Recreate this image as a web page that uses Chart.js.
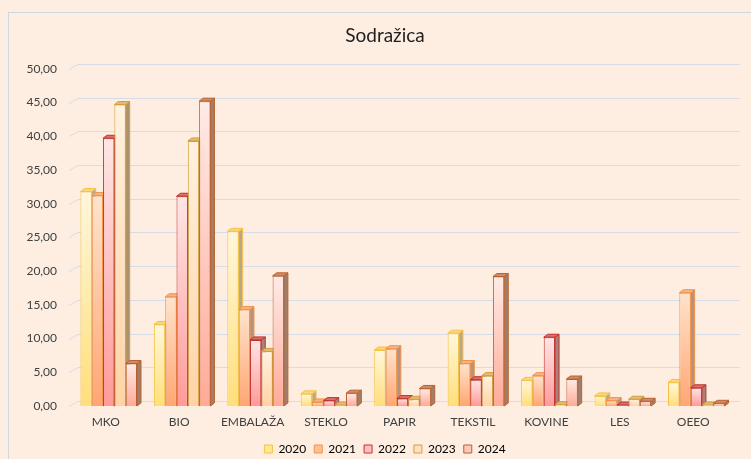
<!DOCTYPE html>
<html>
<head>
<meta charset="utf-8">
<script src="https://cdn.jsdelivr.net/npm/chart.js@4.4.1/dist/chart.umd.min.js"></script>
<style>
html, body { margin: 0; padding: 0; background: #fdeee1; }
#wrap { position: relative; width: 751px; height: 459px; overflow: hidden; }
#frame { position: absolute; left: 8px; top: 12px; width: 754px; height: 500px; border: 1px solid #cdd7e0; box-sizing: border-box; }
#c { position: absolute; left: 0; top: 0; }
</style>
</head>
<body>
<div id="wrap">
  <div id="frame"></div>
  <canvas id="c" width="770" height="465"></canvas>
</div>
<script>
// podatki
var categories = ['MKO', 'BIO', 'EMBALAŽA', 'STEKLO', 'PAPIR', 'TEKSTIL', 'KOVINE', 'LES', 'OEEO'];
var years = ['2020', '2021', '2022', '2023', '2024'];
var v2020 = [31.8, 12.1, 25.9, 1.8, 8.3, 10.8, 3.8, 1.5, 3.5];
var v2021 = [31.2, 16.2, 14.3, 0.6, 8.5, 6.3, 4.5, 0.8, 16.8];
var v2022 = [39.7, 31.1, 9.8, 0.8, 1.1, 3.9, 10.2, 0.1, 2.7];
var v2023 = [44.7, 39.3, 8.1, 0.1, 1.0, 4.5, 0.2, 1.0, 0.05];
var v2024 = [6.3, 45.2, 19.3, 1.9, 2.6, 19.2, 4.0, 0.7, 0.4];
var yTicks = [0, 5, 10, 15, 20, 25, 30, 35, 40, 45, 50];

// barve
var topCol = ['#fff7dc', '#ffe3cc', '#ffe6e6', '#fff2e0', '#ffebe6'];
var botCol = ['#ffdf7a', '#ffa673', '#ff9a9a', '#ffd3a6', '#ffaa98'];
var borderCol = ['#f6c246', '#f39247', '#c3302b', '#d59d3a', '#b9612f'];
var sideCol = ['#b7a88c', '#b39483', '#a9827c', '#ab9272', '#a27e69'];
var capCol = ['#f7d880', '#f5b488', '#d9706a', '#e2bb7a', '#cf8c68'];
var legendFill = ['#ffe88f', '#ffbf95', '#ffc0c0', '#ffe0bb', '#ffc7b8'];

var font = 'Lato, "Open Sans", sans-serif';

function grad(i) {
    return function (c) {
        var chart = c.chart;
        if (!chart.chartArea || c.raw == null) return botCol[i];
        var ys = chart.scales.y;
        var y1 = ys.getPixelForValue(c.raw);
        var y0 = ys.getPixelForValue(0);
        if (y0 - y1 < 1) y1 = y0 - 1;
        var g = chart.ctx.createLinearGradient(0, y1, 0, y0);
        g.addColorStop(0, topCol[i]);
        g.addColorStop(1, botCol[i]);
        return g;
    };
}

var series = [v2020, v2021, v2022, v2023, v2024];
var datasets = series.map(function (d, i) {
    return {
        label: years[i],
        data: d,
        backgroundColor: grad(i),
        borderColor: borderCol[i],
        borderWidth: 1,
        categoryPercentage: 0.77,
        barPercentage: 1.0
    };
});

// 3D stena, mreža in stolpci
var DX = 4, DY = 3, SHIFT = 3;
var bar3d = {
    id: 'bar3d',
    beforeDatasetsDraw: function (chart) {
        var ctx = chart.ctx;
        var ys = chart.scales.y;
        var a = chart.chartArea;
        ctx.save();
        ctx.strokeStyle = '#d6dde6';
        ctx.lineWidth = 1;
        yTicks.forEach(function (v) {
            var y = Math.round(ys.getPixelForValue(v)) + 0.5;
            ctx.beginPath();
            ctx.moveTo(a.left, y);
            ctx.lineTo(a.left + 9, y - 5);
            ctx.lineTo(a.right + 10, y - 5);
            ctx.stroke();
        });
        ctx.restore();

        ctx.save();
        ctx.translate(SHIFT, 0);
        chart.data.datasets.forEach(function (ds, i) {
            var meta = chart.getDatasetMeta(i);
            meta.data.forEach(function (bar) {
                var p = bar.getProps(['x', 'y', 'base', 'width'], true);
                var l = p.x - p.width / 2, r = p.x + p.width / 2;
                var top = Math.min(p.y, p.base - 1);
                bar.draw(ctx);
                ctx.save();
                ctx.lineWidth = 1;
                // stranska ploskev
                ctx.beginPath();
                ctx.moveTo(r, top);
                ctx.lineTo(r + DX, top - DY);
                ctx.lineTo(r + DX, p.base - DY);
                ctx.lineTo(r, p.base);
                ctx.closePath();
                ctx.fillStyle = sideCol[i];
                ctx.fill();
                ctx.strokeStyle = borderCol[i];
                ctx.stroke();
                // zgornja ploskev
                ctx.beginPath();
                ctx.moveTo(l, top);
                ctx.lineTo(l + DX, top - DY);
                ctx.lineTo(r + DX, top - DY);
                ctx.lineTo(r, top);
                ctx.closePath();
                ctx.fillStyle = capCol[i];
                ctx.fill();
                ctx.strokeStyle = borderCol[i];
                ctx.stroke();
                ctx.restore();
            });
        });
        ctx.restore();
        return false;
    }
};

var ctx = document.getElementById('c').getContext('2d');
var chart = new Chart(ctx, {
    type: 'bar',
    data: { labels: categories, datasets: datasets },
    plugins: [bar3d],
    options: {
        responsive: false,
        animation: false,
        devicePixelRatio: 1,
        layout: { padding: { left: 8, right: 8, top: 12, bottom: 0 } },
        plugins: {
            title: {
                display: true,
                text: 'Sodražica',
                color: '#1e1e1e',
                font: { family: font, size: 19, weight: 'normal', lineHeight: 1.2 },
                padding: { top: 12, bottom: 22 }
            },
            legend: {
                position: 'bottom',
                labels: {
                    boxWidth: 8,
                    boxHeight: 8,
                    padding: 8,
                    color: '#404040',
                    font: { family: font, size: 12 },
                    generateLabels: function (ch) {
                        return years.map(function (y, i) {
                            return {
                                text: y,
                                fillStyle: legendFill[i],
                                strokeStyle: borderCol[i],
                                lineWidth: 1,
                                datasetIndex: i,
                                hidden: false
                            };
                        });
                    }
                }
            },
            tooltip: { enabled: false }
        },
        scales: {
            x: {
                afterFit: function (s) { s.height = 29; },
                grid: { display: false, drawTicks: false },
                border: { display: false },
                ticks: { color: '#404040', font: { family: font, size: 12 }, padding: 9 }
            },
            y: {
                min: 0,
                max: 50,
                afterFit: function (s) { s.width = 61; },
                afterBuildTicks: function (s) {
                    s.ticks = yTicks.map(function (v) { return { value: v }; });
                },
                grid: { display: false, drawTicks: false },
                border: { display: false },
                ticks: {
                    color: '#404040',
                    font: { family: font, size: 12 },
                    padding: 12,
                    callback: function (v) { return v.toFixed(2).replace('.', ','); }
                }
            },
            y2: {
                position: 'right',
                display: true,
                afterFit: function (s) { s.width = 32; },
                grid: { display: false, drawTicks: false },
                border: { display: false },
                ticks: { display: false }
            }
        }
    }
});
</script>
</body>
</html>
